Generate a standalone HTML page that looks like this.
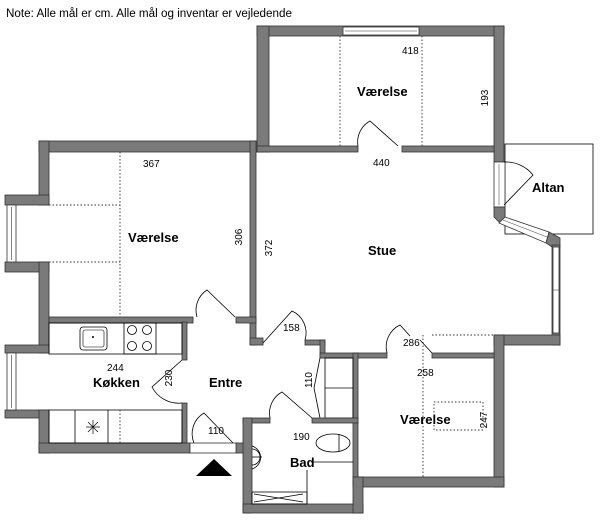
<!DOCTYPE html>
<html><head><meta charset="utf-8"><style>
html,body{margin:0;padding:0;background:#fff;}
svg{display:block;font-family:"Liberation Sans",sans-serif;}
.w{fill:#7a7a7a;stroke:#333;stroke-width:0.8;}
.t{font-size:10px;fill:#000;}
.b{font-size:13px;font-weight:bold;fill:#000;}
.d{stroke:#000;stroke-width:0.8;fill:none;}
.dot{stroke:#333;stroke-width:0.9;fill:none;stroke-dasharray:1.5 2;}
.win{fill:#fff;stroke:#333;stroke-width:0.8;}
</style></head><body>
<svg width="600" height="520" viewBox="0 0 600 520" xmlns="http://www.w3.org/2000/svg">
<text x="6" y="17" style="font-size:11.5px" textLength="286" lengthAdjust="spacingAndGlyphs">Note: Alle mål er cm. Alle mål og inventar er vejledende</text>

<!-- Altan -->
<rect x="505" y="144" width="88" height="90" fill="#fff" stroke="#000" stroke-width="0.8"/>

<!-- Top Værelse walls -->
<rect class="w" x="257" y="26" width="247" height="10"/>
<rect class="w" x="257" y="26" width="12" height="126"/>
<rect class="w" x="494" y="26" width="10" height="136"/>
<rect class="w" x="256" y="146" width="102" height="6"/>
<rect class="w" x="402" y="146" width="92" height="6"/>
<rect class="win" x="343" y="27" width="76" height="8"/>
<line x1="345" y1="31" x2="417" y2="31" stroke="#333" stroke-width="0.6"/>
<line x1="340" y1="36" x2="340" y2="146" class="dot"/>
<line x1="422" y1="36" x2="422" y2="146" class="dot"/>

<!-- Left Værelse walls -->
<rect class="w" x="39" y="141" width="218" height="11"/>
<rect class="w" x="39" y="141" width="10" height="64"/>
<rect class="w" x="5" y="195" width="44" height="10"/>
<rect class="w" x="5" y="262" width="44" height="10"/>
<rect class="w" x="39" y="262" width="10" height="91"/>
<rect class="win" x="7" y="205" width="9" height="57"/>
<line x1="11.5" y1="207" x2="11.5" y2="260" stroke="#333" stroke-width="0.6"/>
<rect class="w" x="250" y="141" width="6" height="204"/>
<rect class="w" x="250" y="338" width="13" height="7"/>

<!-- Kitchen -->
<rect class="w" x="49" y="317" width="144" height="6"/>
<rect class="w" x="236" y="317" width="20" height="6"/>
<rect class="w" x="182" y="322" width="5" height="38"/>
<rect class="w" x="182" y="403" width="5" height="40"/>
<rect class="w" x="5" y="345" width="44" height="8"/>
<rect class="w" x="5" y="410" width="44" height="8"/>
<rect class="w" x="39" y="410" width="10" height="43"/>
<rect class="w" x="39" y="443" width="151" height="10"/>
<rect class="win" x="7" y="353" width="9" height="57"/>
<line x1="11.5" y1="355" x2="11.5" y2="408" stroke="#333" stroke-width="0.6"/>
<rect x="49" y="323" width="133" height="31" fill="none" stroke="#000" stroke-width="0.8"/>
<line x1="49" y1="354" x2="182" y2="354" class="dot"/>
<rect x="80" y="327" width="27" height="23" rx="3" fill="none" stroke="#000" stroke-width="0.8"/>
<rect x="83" y="330" width="21" height="17" rx="2" fill="none" stroke="#000" stroke-width="0.6"/>
<circle cx="93" cy="337" r="1" fill="#000"/>
<rect x="124" y="323" width="32" height="31" fill="none" stroke="#000" stroke-width="0.8"/>
<circle cx="132" cy="330" r="4.5" class="d"/><circle cx="147" cy="330" r="4.5" class="d"/>
<circle cx="132" cy="346" r="4.5" class="d"/><circle cx="147" cy="346" r="4.5" class="d"/>
<rect x="49" y="410" width="133" height="33" fill="none" stroke="#000" stroke-width="0.8"/>
<line x1="49" y1="410" x2="120" y2="410" class="dot"/>
<line x1="75" y1="410" x2="75" y2="443" class="d"/>
<line x1="108" y1="410" x2="108" y2="443" class="d"/>
<g stroke="#000" stroke-width="0.7"><line x1="86" y1="427" x2="100" y2="427"/><line x1="93" y1="420" x2="93" y2="434"/><line x1="88" y1="422" x2="98" y2="432"/><line x1="98" y1="422" x2="88" y2="432"/></g>
<line x1="120" y1="152" x2="120" y2="317" class="dot"/>
<line x1="49" y1="205" x2="120" y2="205" class="dot"/>
<line x1="49" y1="262" x2="120" y2="262" class="dot"/>
<line x1="120" y1="410" x2="120" y2="443" class="dot"/>

<!-- entry -->
<rect class="win" x="190" y="443" width="47" height="10"/>
<rect class="w" x="236" y="443" width="9" height="10"/>
<polygon points="196,476 232,476 214,459" fill="#000"/>

<!-- Stue right side -->
<rect class="win" x="494" y="162" width="11" height="45"/>
<line x1="499" y1="164" x2="499" y2="205" stroke="#333" stroke-width="0.5"/>
<polygon class="w" points="494,207 505,207 505,222 499,222 494,217"/>
<polygon class="win" points="505,217 549,232 546,243 499,223"/>
<line x1="503" y1="220" x2="547" y2="237" stroke="#333" stroke-width="0.5"/>
<polygon class="w" points="549,232 560,238 560,247 552,247 546,243"/>
<rect class="w" x="552" y="245" width="8" height="100"/>
<rect class="win" x="553" y="247" width="6" height="86"/>
<line x1="553" y1="290" x2="559" y2="290" stroke="#333" stroke-width="0.5"/>
<rect class="w" x="494" y="335" width="66" height="10"/>
<rect class="w" x="494" y="335" width="10" height="152"/>

<!-- Stue bottom / closet -->
<rect class="w" x="305" y="340" width="20" height="5"/>
<rect class="w" x="320" y="340" width="5" height="18"/>
<rect class="w" x="320" y="353" width="67" height="5"/>
<rect class="w" x="432" y="353" width="62" height="5"/>
<rect class="w" x="353" y="353" width="5" height="124"/>
<rect x="325" y="358" width="28" height="60" fill="none" stroke="#000" stroke-width="0.8"/>
<line x1="325" y1="388" x2="353" y2="388" class="d"/>
<path d="M320 358 L314 388 L320 418" class="d"/>
<line x1="432" y1="335" x2="494" y2="335" class="dot"/>
<line x1="423" y1="335" x2="423" y2="477" class="dot"/>
<rect x="434" y="402" width="49" height="28" class="dot"/>
<rect class="w" x="353" y="477" width="151" height="10"/>

<!-- Bad -->
<rect class="w" x="243" y="418" width="27" height="5"/>
<rect class="w" x="312" y="418" width="46" height="5"/>
<rect class="w" x="243" y="418" width="9" height="95"/>
<rect class="w" x="243" y="504" width="120" height="9"/>
<rect class="w" x="353" y="477" width="10" height="36"/>
<ellipse cx="333" cy="443" rx="17" ry="9" class="d"/>
<line x1="339" y1="434" x2="339" y2="452" class="d"/>
<path d="M252 446 A12 12 0 0 1 252 469" class="d"/>
<path d="M252 449 A8 8 0 0 1 252 465" class="d"/>
<line x1="252" y1="457" x2="262" y2="457" class="d"/>
<line x1="311" y1="462" x2="353" y2="462" class="d"/>
<line x1="307" y1="470" x2="307" y2="504" class="d"/>
<rect x="252" y="492" width="55" height="12" class="d"/>
<line x1="254" y1="494" x2="303" y2="502" class="d"/><line x1="254" y1="502" x2="303" y2="494" class="d"/>

<!-- doors -->
<path d="M358 146 A24 24 0 0 1 370 121 L398 146" class="d"/>
<path d="M197 317 A24 24 0 0 1 207 290 L235 317" class="d"/>
<path d="M263 343 L292 311 A24 24 0 0 1 305 340" class="d"/>
<path d="M387 353 A24 24 0 0 1 400 325 L410 336" class="d"/>
<path d="M432 353 L420 340" class="d"/>
<path d="M182 360 L152 387 A30 30 0 0 0 182 403" class="d"/>
<path d="M194 443 A24 24 0 0 1 204 413 L233 443" class="d"/>
<path d="M270 418 A24 24 0 0 1 282 392 L312 418" class="d"/>
<path d="M504 205 L533 175 A35 35 0 0 0 504 162" class="d"/>

<!-- labels -->
<text class="t" x="402" y="54">418</text>
<text class="t" x="373" y="166">440</text>
<text class="t" x="143" y="167">367</text>
<text class="t" x="484" y="98" transform="rotate(-90 484 98)" text-anchor="middle" dy="4">193</text>
<text class="t" x="238" y="237" transform="rotate(-90 238 237)" text-anchor="middle" dy="4">306</text>
<text class="t" x="268" y="248" transform="rotate(-90 268 248)" text-anchor="middle" dy="4">372</text>
<text class="t" x="283" y="331">158</text>
<text class="t" x="403" y="346">286</text>
<text class="t" x="417" y="376">258</text>
<text class="t" x="483" y="420" transform="rotate(-90 483 420)" text-anchor="middle" dy="4">247</text>
<text class="t" x="107" y="371">244</text>
<text class="t" x="168" y="378" transform="rotate(-90 168 378)" text-anchor="middle" dy="4">230</text>
<text class="t" x="308" y="380" transform="rotate(-90 308 380)" text-anchor="middle" dy="4">110</text>
<text class="t" x="208" y="434">110</text>
<text class="t" x="293" y="440">190</text>
<text class="b" x="357" y="96">Værelse</text>
<text class="b" x="128" y="242">Værelse</text>
<text class="b" x="532" y="192">Altan</text>
<text class="b" x="368" y="255">Stue</text>
<text class="b" x="93" y="387">Køkken</text>
<text class="b" x="209" y="387">Entre</text>
<text class="b" x="400" y="424">Værelse</text>
<text class="b" x="290" y="467">Bad</text>
</svg>
</body></html>
